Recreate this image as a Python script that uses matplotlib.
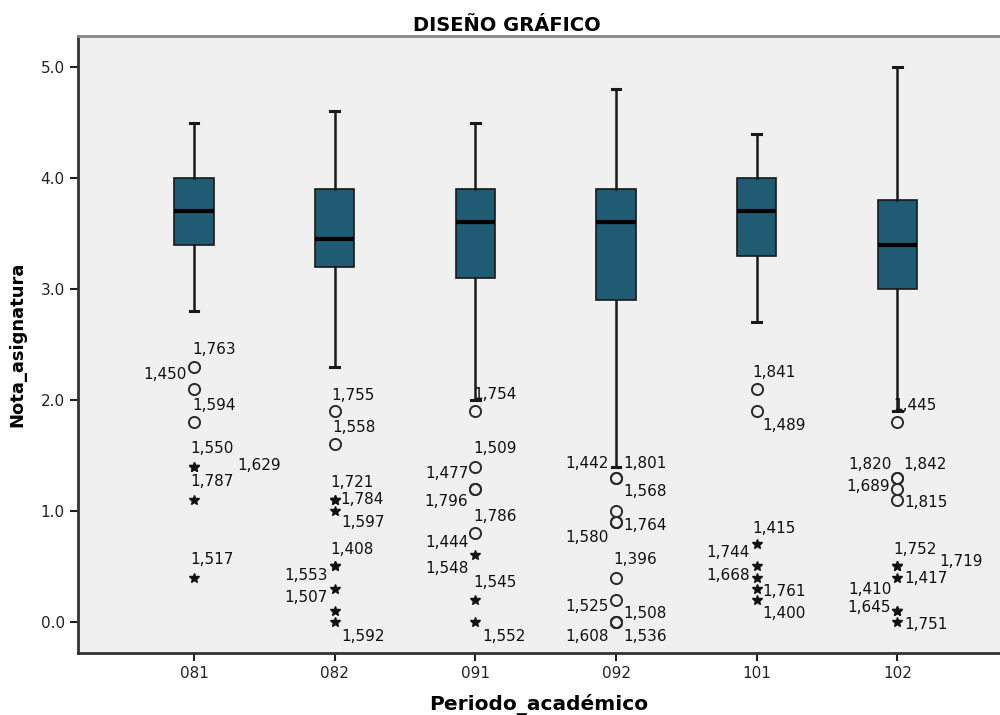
import matplotlib
matplotlib.use('Agg')
import matplotlib.pyplot as plt

plt.rcParams['font.family'] = ['DejaVu Sans']

periodos = ['081', '082', '091', '092', '101', '102']
bigote_inf = [2.8, 2.3, 2.0, 1.4, 2.7, 1.9]
q1 = [3.4, 3.2, 3.1, 2.9, 3.3, 3.0]
mediana = [3.7, 3.45, 3.6, 3.6, 3.7, 3.4]
q3 = [4.0, 3.9, 3.9, 3.9, 4.0, 3.8]
bigote_sup = [4.5, 4.6, 4.5, 4.8, 4.4, 5.0]

# casos atipicos (circulos) y extremos (estrellas)
atipicos = [
    [2.3, 2.1, 1.8],
    [1.9, 1.6],
    [1.9, 1.4, 1.2, 1.2, 0.8],
    [1.3, 1.3, 1.0, 0.9, 0.9, 0.4, 0.2, 0.0, 0.0, 0.0],
    [2.1, 1.9],
    [1.8, 1.3, 1.3, 1.2, 1.1],
]
extremos = [
    [1.4, 1.4, 1.1, 0.4],
    [1.1, 1.1, 1.0, 0.5, 0.5, 0.3, 0.1, 0.0],
    [0.6, 0.2, 0.0],
    [],
    [0.7, 0.5, 0.4, 0.3, 0.2],
    [0.5, 0.5, 0.4, 0.1, 0.1, 0.0],
]

# numero de caso de cada atipico / extremo
casos_valor = [
    [2.3, 2.1, 1.8, 1.4, 1.4, 1.1, 0.4],
    [1.9, 1.6, 1.1, 1.1, 1.0, 0.5, 0.5, 0.3, 0.0],
    [1.9, 1.4, 1.4, 1.2, 0.8, 0.8, 0.6, 0.2, 0.0],
    [1.3, 1.3, 1.0, 0.9, 0.9, 0.4, 0.2, 0.0, 0.0, 0.0],
    [2.1, 1.9, 0.7, 0.5, 0.4, 0.3, 0.2],
    [1.8, 1.3, 1.3, 1.2, 1.1, 0.5, 0.5, 0.4, 0.1, 0.1, 0.0],
]
casos_texto = [
    ['1,763', '1,450', '1,594', '1,550', '1,629', '1,787', '1,517'],
    ['1,755', '1,558', '1,721', '1,784', '1,597', '1,408', '1,553', '1,507', '1,592'],
    ['1,754', '1,509', '1,477', '1,796', '1,786', '1,444', '1,548', '1,545', '1,552'],
    ['1,442', '1,801', '1,568', '1,764', '1,580', '1,396', '1,525', '1,508', '1,608', '1,536'],
    ['1,841', '1,489', '1,415', '1,744', '1,668', '1,761', '1,400'],
    ['1,445', '1,820', '1,842', '1,689', '1,815', '1,752', '1,719', '1,417', '1,410', '1,645', '1,751'],
]

# desplazamiento de cada etiqueta en pixeles (dx, dy, alineacion)
L, R = 'left', 'right'
pos_etiquetas = [
    [(-2, 17, L), (-7, 14, R), (-2, 17, L), (-4, 18, L), (43, 1, L), (-4, 18, L), (-4, 18, L)],
    [(-3, 16, L), (-2, 17, L), (-4, 17, L), (6, 0, L), (7, -12, L), (-4, 17, L), (-7, -9, R),
     (-7, -9, R), (7, -15, L)],
    [(-2, 17, L), (-2, 18, L), (-7, -7, R), (-7, -13, R), (-2, 17, L), (-7, -9, R), (-7, -13, R),
     (-2, 17, L), (7, -15, L)],
    [(-7, 14, R), (7, 14, L), (7, 19, L), (7, -3, L), (-7, -15, R), (-3, 18, L), (-7, -7, R),
     (7, 8, L), (-7, -15, R), (7, -15, L)],
    [(-4, 16, L), (6, -14, L), (-4, 16, L), (-7, 14, R), (-7, 2, R), (6, -3, L), (6, -14, L)],
    [(-4, 17, L), (-6, 13, R), (6, 13, L), (-7, 2, R), (7, -3, L), (-4, 17, L), (42, 5, L),
     (7, -1, L), (-6, 21, R), (-7, 3, R), (7, -3, L)],
]

fig = plt.figure(figsize=(10, 7.15), dpi=100)
ax = fig.add_axes([0.078, 0.0867, 0.922, 0.863])
ax.set_facecolor('#f0f0f0')

stats = []
for i in range(len(periodos)):
    stats.append({'whislo': bigote_inf[i], 'q1': q1[i], 'med': mediana[i],
                  'q3': q3[i], 'whishi': bigote_sup[i], 'fliers': []})

posiciones = list(range(1, len(periodos) + 1))
ax.bxp(stats, positions=posiciones, widths=0.28, patch_artist=True,
       capwidths=0.06, showfliers=False,
       boxprops=dict(facecolor='#1f5b73', edgecolor='#1a1a1a', linewidth=1.2),
       medianprops=dict(color='black', linewidth=3),
       whiskerprops=dict(color='#1a1a1a', linewidth=1.8),
       capprops=dict(color='#1a1a1a', linewidth=2.2))

for i, p in enumerate(posiciones):
    ax.plot([p] * len(atipicos[i]), atipicos[i], 'o', ms=8, mfc='none',
            mec='#2a2a2a', mew=1.4)
    ax.plot([p] * len(extremos[i]), extremos[i], '*', ms=7.5, color='#111111')
    for v, t, (dx, dy, ha) in zip(casos_valor[i], casos_texto[i], pos_etiquetas[i]):
        ax.annotate(t, (p, v), xytext=(dx, dy), textcoords='offset pixels',
                    ha=ha, va='center', fontsize=11, color='#111111')

ax.set_xlim(0.175, 6.73)
ax.set_ylim(-0.28, 5.28)
ax.set_xticks(posiciones)
ax.set_xticklabels(periodos)
ax.set_yticks([0, 1, 2, 3, 4, 5])
ax.set_yticklabels(['0.0', '1.0', '2.0', '3.0', '4.0', '5.0'])
ax.tick_params(axis='both', labelsize=11, colors='#222222', width=1.5, length=6)

for s in ['left', 'bottom']:
    ax.spines[s].set_color('#333333')
    ax.spines[s].set_linewidth(2)
ax.spines['top'].set_color('#888888')
ax.spines['top'].set_linewidth(2)
ax.spines['right'].set_visible(False)

ax.set_xlabel('Periodo_académico', fontsize=14.5, fontweight='bold', labelpad=9)
ax.set_ylabel('Nota_asignatura', fontsize=13, fontweight='bold', labelpad=10)
fig.text(0.507, 0.965, 'DISEÑO GRÁFICO', fontsize=14, fontweight='bold',
         ha='center', va='center')

fig.savefig('out.png', dpi=100)
